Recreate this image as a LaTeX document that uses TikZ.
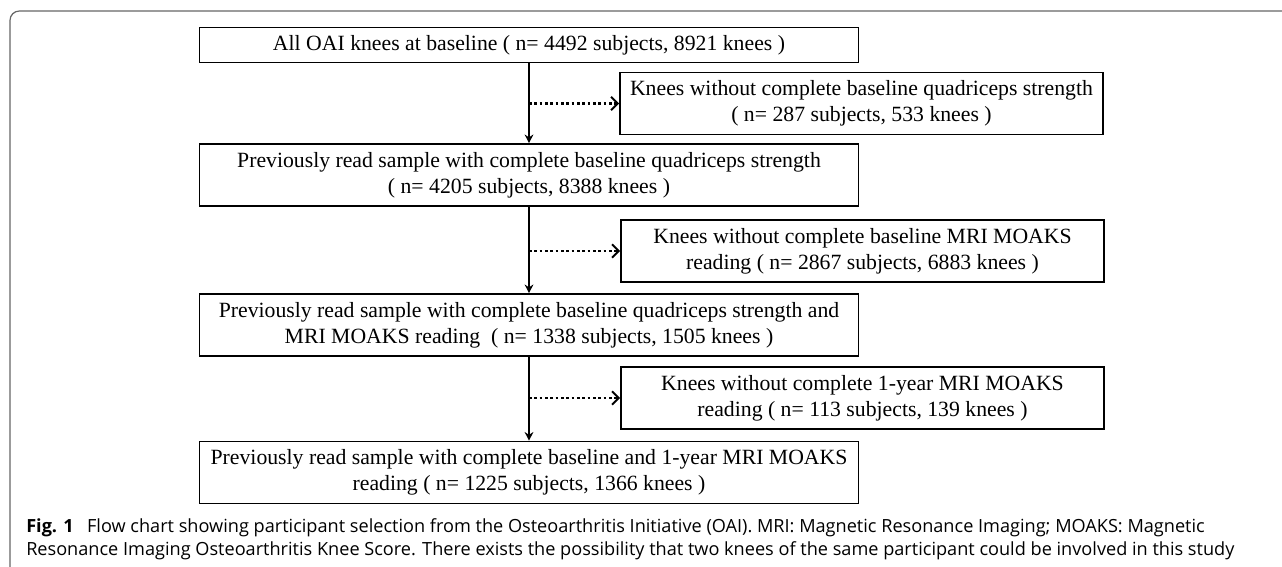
\documentclass[tikz,border=0pt]{standalone}
\usepackage{fontspec}
\setmainfont{Liberation Serif}
\newfontfamily\capfont{Open Sans}
\usetikzlibrary{arrows.meta}

\begin{document}
\begin{tikzpicture}[x=0.75pt,y=-0.75pt,
    box/.style={draw,line width=1.2pt,inner sep=0pt,align=center,
      minimum height=46.5pt,font=\fontsize{16.3}{19.5}\selectfont},
    mainbox/.style={box,minimum width=494.25pt},
    sidebox/.style={box,minimum width=362.25pt},
    flow/.style={line width=1.4pt,-{Stealth[length=6.5pt,width=6.5pt]}},
    drop/.style={line width=2pt,dash pattern=on 2pt off 2pt,
      -{Straight Barb[length=5pt,width=10pt,line width=1.5pt]}}]
    \useasboundingbox (0,0) rectangle (1282,567);
    % frame
    \draw[black!60,line width=0.9pt,rounded corners=7pt] (10,567) -- (10,11) -- (1282,11);
    % main column
    \node[mainbox,minimum height=26.25pt] (all) at (529,45)
      {All OAI knees at baseline ( n= 4492 subjects, 8921 knees )};
    \node[mainbox] (quad) at (529,175)
      {Previously read sample with complete baseline quadriceps strength\\
       ( n= 4205 subjects, 8388 knees )};
    \node[mainbox] (moaks) at (529,325)
      {Previously read sample with complete baseline quadriceps strength and\\
       MRI MOAKS reading\ \ ( n= 1338 subjects, 1505 knees )};
    \node[mainbox] (final) at (529,472.5)
      {Previously read sample with complete baseline and 1-year MRI MOAKS\\
       reading ( n= 1225 subjects, 1366 knees )};
    % excluded
    \node[sidebox] (exquad) at (861.5,103.5)
      {Knees without complete baseline quadriceps strength\\
       ( n= 287 subjects, 533 knees )};
    \node[sidebox] (exbase) at (862.5,251)
      {Knees without complete baseline MRI MOAKS\\
       reading ( n= 2867 subjects, 6883 knees )};
    \node[sidebox] (exyear) at (862.5,398)
      {Knees without complete 1-year MRI MOAKS\\
       reading ( n= 113 subjects, 139 knees )};
    % arrows
    \coordinate (spine) at (529,0);
    \draw[flow] (all.south -| spine) -- (quad.north -| spine);
    \draw[flow] (quad.south -| spine) -- (moaks.north -| spine);
    \draw[flow] (moaks.south -| spine) -- (final.north -| spine);
    \draw[drop] (spine |- exquad.west) -- (exquad.west);
    \draw[drop] (spine |- exbase.west) -- (exbase.west);
    \draw[drop] (spine |- exyear.west) -- (exyear.west);
    % caption
    \node[anchor=base west,inner sep=0pt,align=left,
      font=\capfont\fontsize{13.6}{16.7}\selectfont] (caption) at (26,555)
      {\textbf{Fig. 1}\hspace{10pt}Flow chart showing participant selection from the Osteoarthritis Initiative (OAI). MRI: Magnetic Resonance Imaging; MOAKS: Magnetic\\
       Resonance Imaging Osteoarthritis Knee Score. There exists the possibility that two knees of the same participant could be involved in this study};
\end{tikzpicture}
\end{document}
